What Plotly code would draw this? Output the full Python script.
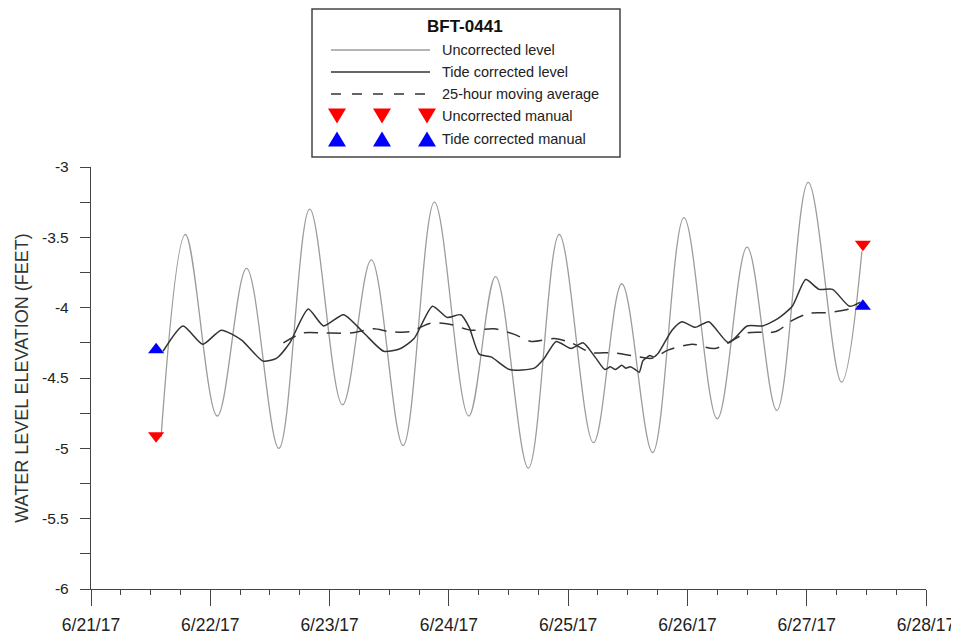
import pandas as pd
import plotly.graph_objects as go

START = pd.Timestamp("2017-06-21 00:00")

# ---------------- data (hours after 6/21/17 00:00, elevation in feet) -------------
uncorr_hours = [14.1, 19.0, 25.4, 31.3, 37.8, 44.0, 50.6, 56.4, 62.8, 69.1, 76.0,
                81.4, 88.0, 94.2, 101.1, 106.8, 113.0, 119.3, 126.0, 132.0, 138.0,
                144.3, 151.0, 155.1]
uncorr_level = [-4.92, -3.48, -4.77, -3.72, -5.00, -3.30, -4.69, -3.66, -4.98, -3.25,
                -4.77, -3.78, -5.14, -3.48, -4.96, -3.83, -5.03, -3.36, -4.79, -3.57,
                -4.73, -3.11, -4.53, -3.60]

tide_hours = [14.5, 18.5, 22.5, 26.2, 30.3, 34.6, 37.3, 40.0, 43.7, 46.8, 50.8, 54.9,
              58.9, 62.3, 65.0, 68.7, 71.7, 74.4, 76.1, 78.1, 80.5, 84.2, 89.2, 91.2,
              93.6, 96.6, 99.0, 101.4, 103.4, 104.5, 105.5, 106.8, 107.6, 108.5, 109.5,
              110.3, 111.0, 111.6, 112.4, 113.2, 114.2, 116.9, 118.9, 121.6, 124.3,
              128.3, 132.0, 135.1, 138.1, 141.1, 143.8, 146.5, 149.2, 152.6, 154.8]
tide_level = [-4.31, -4.13, -4.26, -4.16, -4.23, -4.38, -4.36, -4.25, -4.01, -4.13,
              -4.05, -4.18, -4.31, -4.29, -4.22, -3.99, -4.07, -4.05, -4.14, -4.33,
              -4.35, -4.44, -4.43, -4.36, -4.24, -4.29, -4.25, -4.35, -4.44, -4.42,
              -4.44, -4.41, -4.43, -4.42, -4.44, -4.46, -4.38, -4.36, -4.34, -4.35,
              -4.32, -4.16, -4.10, -4.14, -4.10, -4.25, -4.13, -4.13, -4.08, -3.99,
              -3.80, -3.87, -3.87, -3.99, -3.96]

avg_hours = [38.7, 42.7, 46.8, 52.2, 56.9, 60.0, 64.3, 68.3, 72.4, 76.4, 81.1, 85.2,
             88.6, 93.3, 96.6, 100.7, 104.7, 108.8, 112.8, 116.2, 121.0, 125.6, 132.0,
             137.8, 141.1, 144.5, 148.5, 152.6, 154.3]
avg_level = [-4.25, -4.18, -4.18, -4.18, -4.15, -4.17, -4.17, -4.11, -4.12, -4.16,
             -4.15, -4.19, -4.24, -4.22, -4.25, -4.32, -4.32, -4.34, -4.36, -4.30,
             -4.26, -4.29, -4.18, -4.17, -4.09, -4.04, -4.035, -4.01, -3.99]

manual_hours = [13.1, 155.3]
uncorr_manual = [-4.91, -3.55]
tide_manual = [-4.30, -3.99]

legend_title = "BFT-0441"
legend_labels = ["Uncorrected level", "Tide corrected level", "25-hour moving average",
                 "Uncorrected manual", "Tide corrected manual"]

y_tick_vals = [-6, -5.5, -5, -4.5, -4, -3.5, -3]
y_tick_text = ["-6", "-5.5", "-5", "-4.5", "-4", "-3.5", "-3"]
y_title = "WATER LEVEL ELEVATION (FEET)"


def to_time(hours):
    return [START + pd.Timedelta(hours=h) for h in hours]


GRAY = "#9c9c9c"
DARK = "#333333"
AXIS = "#444444"
FONT = "Liberation Sans, Arial, sans-serif"

fig = go.Figure()
fig.add_trace(go.Scatter(x=to_time(uncorr_hours), y=uncorr_level, mode="lines",
                         line=dict(color=GRAY, width=1.3, shape="spline", smoothing=1.0),
                         name=legend_labels[0]))
fig.add_trace(go.Scatter(x=to_time(avg_hours), y=avg_level, mode="lines",
                         line=dict(color=DARK, width=1.5, dash="14px,9px", shape="spline",
                                   smoothing=0.8),
                         name=legend_labels[2]))
fig.add_trace(go.Scatter(x=to_time(tide_hours), y=tide_level, mode="lines",
                         line=dict(color=DARK, width=1.5, shape="spline", smoothing=0.6),
                         name=legend_labels[1]))
fig.add_trace(go.Scatter(x=to_time(manual_hours), y=uncorr_manual, mode="markers",
                         marker=dict(symbol="triangle-down", size=14, color="#ff0000",
                                     line=dict(width=0)),
                         name=legend_labels[3]))
fig.add_trace(go.Scatter(x=to_time(manual_hours), y=tide_manual, mode="markers",
                         marker=dict(symbol="triangle-up", size=14, color="#0000ff",
                                     line=dict(width=0)),
                         name=legend_labels[4]))

# ---------------- custom legend box (layout positions in screen pixels) ------------
OFF = 8                      # page body margin
W, H = 959, 640
L, R, T, B = 91 - OFF, 926 - OFF, 167 - OFF, 589 - OFF


def lx(x):
    return (x - OFF - L) / (R - L)


def ly(y):
    return (B - (y - OFF)) / (B - T)


shapes = []
annotations = []
shapes.append(dict(type="rect", xref="paper", yref="paper", x0=lx(312), x1=lx(620),
                   y0=ly(157), y1=ly(9), line=dict(color=AXIS, width=1.5),
                   fillcolor="white", layer="above"))
annotations.append(dict(xref="paper", yref="paper", x=lx(465), y=ly(27),
                        text="<b>%s</b>" % legend_title,
                        showarrow=False, xanchor="center", yanchor="middle",
                        font=dict(size=17, color="#111111", family=FONT)))
rows = [50, 72, 94, 116, 139]
shapes.append(dict(type="line", xref="paper", yref="paper", x0=lx(331), x1=lx(430),
                   y0=ly(rows[0]), y1=ly(rows[0]), line=dict(color=GRAY, width=1.3)))
shapes.append(dict(type="line", xref="paper", yref="paper", x0=lx(331), x1=lx(430),
                   y0=ly(rows[1]), y1=ly(rows[1]), line=dict(color=DARK, width=1.5)))
shapes.append(dict(type="line", xref="paper", yref="paper", x0=lx(331), x1=lx(427),
                   y0=ly(rows[2]), y1=ly(rows[2]),
                   line=dict(color=DARK, width=1.5, dash="10px,11px")))


def tri_path(cx, cy, down):
    w, h = 9, 7.5
    if down:
        pts = [(cx - w, cy - h), (cx + w, cy - h), (cx, cy + h)]
    else:
        pts = [(cx - w, cy + h), (cx + w, cy + h), (cx, cy - h)]
    return "M %f,%f L %f,%f L %f,%f Z" % tuple(v for p in pts for v in (lx(p[0]), ly(p[1])))


for cx in (337, 382, 427):
    shapes.append(dict(type="path", xref="paper", yref="paper", path=tri_path(cx, rows[3], True),
                       fillcolor="#ff0000", line=dict(width=0)))
    shapes.append(dict(type="path", xref="paper", yref="paper", path=tri_path(cx, rows[4], False),
                       fillcolor="#0000ff", line=dict(width=0)))

for lbl, ry in zip(legend_labels, rows):
    annotations.append(dict(xref="paper", yref="paper", x=lx(440), y=ly(ry), text=lbl,
                            showarrow=False, xanchor="left", yanchor="middle",
                            font=dict(size=14.5, color="#222222", family=FONT)))

fig.update_layout(
    width=W, height=H,
    margin=dict(l=L, r=W - R, t=T, b=H - B, pad=0, autoexpand=False),
    paper_bgcolor="white", plot_bgcolor="white",
    showlegend=False,
    font=dict(family=FONT, size=16, color="#222222"),
    shapes=shapes, annotations=annotations,
    xaxis=dict(type="date", range=["2017-06-21", "2017-06-28"], automargin=False,
               tickmode="linear", tick0="2017-06-21", dtick=86400000,
               tickformat="%-m/%-d/%y", ticks="outside", ticklen=16, tickwidth=1.3,
               tickcolor=AXIS, showline=True, linecolor=AXIS, linewidth=1.3,
               showgrid=False, zeroline=False, tickfont=dict(size=17.5, color="#222222"),
               ticklabelstandoff=4, ticklabeloverflow="allow",
               minor=dict(dtick=6 * 3600000, tick0="2017-06-21", ticks="outside",
                          ticklen=5, tickwidth=1.3, tickcolor=AXIS, showgrid=False)),
    yaxis=dict(range=[-6, -3], tickmode="array", tickvals=y_tick_vals, ticktext=y_tick_text,
               automargin=False,
               ticks="outside", ticklen=10, tickwidth=1.3, tickcolor=AXIS,
               showline=True, linecolor=AXIS, linewidth=1.3, showgrid=False, zeroline=False,
               tickfont=dict(size=15.5, color="#222222"), ticklabelstandoff=8,
               title=dict(text=y_title, font=dict(size=18, color="#333333"), standoff=8),
               minor=dict(dtick=0.25, tick0=-6, ticks="outside", ticklen=10, tickwidth=1.3,
                          tickcolor=AXIS, showgrid=False)),
)

fig.write_html("out.html")
